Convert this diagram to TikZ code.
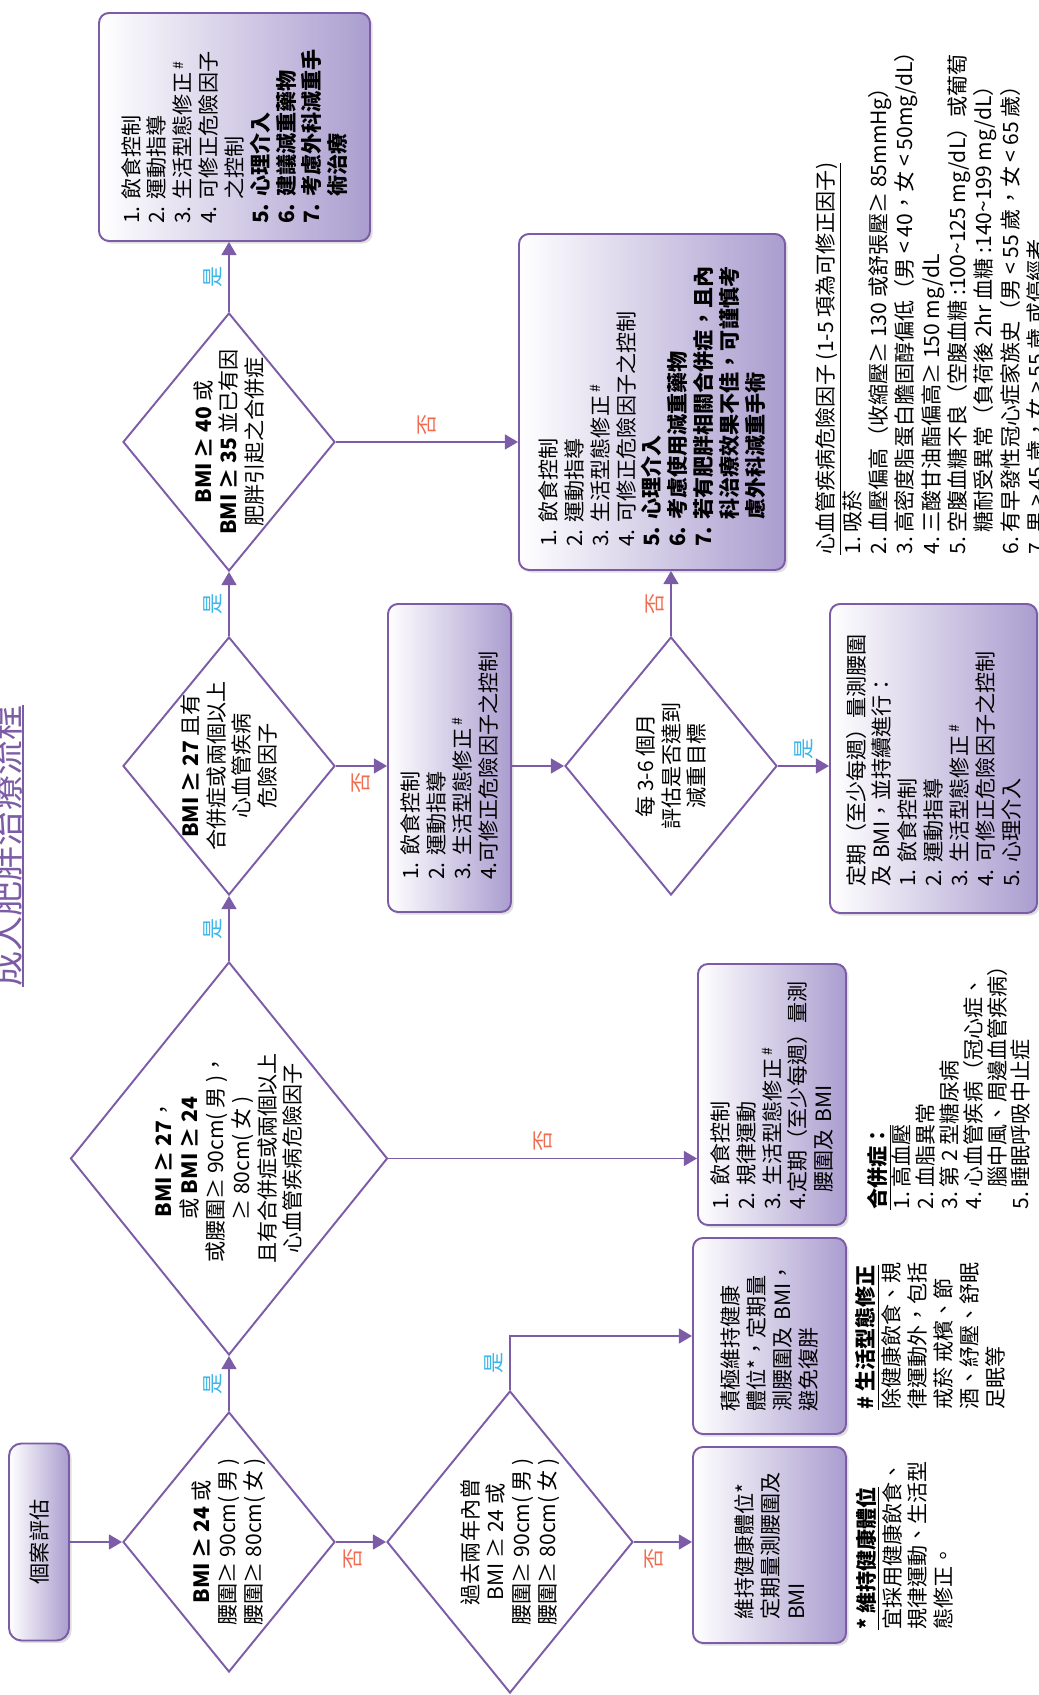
\documentclass[tikz,border=0pt]{standalone}
\usepackage{fontspec}
\setmainfont{Noto Sans CJK TC}
\usetikzlibrary{shapes.geometric,arrows.meta,shadows}
\definecolor{flowline}{RGB}{124,92,166}
\definecolor{boxdark}{RGB}{170,157,207}
\definecolor{yescol}{RGB}{60,182,232}
\definecolor{nocol}{RGB}{240,108,80}
\begin{document}
\begin{tikzpicture}[rotate=90,transform shape,font=\fontsize{12}{14.7}\selectfont,
  link/.style={draw=flowline,line width=1.1pt,-{Triangle[length=7.5pt,width=8.5pt]}},
  decision/.style={diamond,draw=flowline,line width=1.1pt,inner sep=-10pt,align=center},
  stepbox/.style={rectangle,rounded corners=0.2cm,draw=flowline,line width=1.1pt,
    top color=white,bottom color=boxdark,shading angle=90,align=left,
    drop shadow={shadow xshift=1.5pt,shadow yshift=-1.5pt,opacity=0.25}},
  yeslabel/.style={text=yescol},
  nolabel/.style={text=nocol}]
  \useasboundingbox (0,0) rectangle (33.9,20.76);

  \node[anchor=south west,inner sep=0pt,text=flowline,font=\fontsize{20}{24}\selectfont]
    (title) at (14.16,20.3) {成人肥胖治療流程};
  \draw[flowline,line width=1.4pt] (title.south west) -- (title.south east);

  \node[stepbox,align=center,rounded corners=0.25cm,minimum width=3.94cm,minimum height=1.2cm]
    (start) at (3.06,19.98) {個案評估};
  \node[decision,minimum width=5.2cm,minimum height=4.24cm] (d24) at (3.06,16.18)
    {\textbf{BMI ≥ 24} 或\\腰圍≥ 90cm( 男 )\\腰圍≥ 80cm( 女 )};
  \node[decision,minimum width=6.04cm,minimum height=4.92cm] (dpast) at (3.06,10.56)
    {過去兩年內曾\\BMI ≥ 24 或\\腰圍≥ 90cm( 男 )\\腰圍≥ 80cm( 女 )};
  \node[decision,minimum width=7.86cm,minimum height=6.34cm] (big) at (10.73,16.18)
    {\textbf{BMI ≥ 27}，\\或 \textbf{BMI ≥ 24}\\或腰圍≥ 90cm( 男 )，\\≥ 80cm( 女 )\\且有合併症或兩個以上\\心血管疾病危險因子};
  \node[decision,minimum width=5.16cm,minimum height=4.24cm] (d27) at (18.58,16.18)
    {\textbf{BMI ≥ 27} 且有\\合併症或兩個以上\\心血管疾病\\危險因子};
  \node[decision,minimum width=5.16cm,minimum height=4.24cm] (d36) at (18.58,7.34)
    {每 3-6 個月\\評估是否達到\\減重目標};
  \node[decision,minimum width=5.16cm,minimum height=4.24cm] (d40) at (25.06,16.18)
    {\textbf{BMI ≥ 40} 或\\\textbf{BMI ≥ 35} 並已有因\\肥胖引起之合併症};

  \node[stepbox,minimum width=3.92cm,minimum height=3.06cm,text width=3.0cm,inner xsep=0.46cm]
    (maintain) at (3.0,5.37) {維持健康體位*\\定期量測腰圍及\\BMI};
  \node[stepbox,minimum width=3.92cm,minimum height=3.06cm,text width=3.04cm,inner xsep=0.44cm]
    (active) at (7.18,5.37) {積極維持健康\\體位*，定期量\\測腰圍及~BMI，\\避免復胖};
  \node[stepbox,minimum width=5.22cm,minimum height=2.96cm,text width=4.62cm,inner xsep=0.3cm]
    (box24) at (12.01,5.32)
    {1.~飲食控制\\2.~規律運動\\3.~生活型態修正\,\textsuperscript{\#}\\4.定期（至少每週）量測\\\phantom{4.}腰圍及~BMI};
  \node[stepbox,minimum width=6.16cm,minimum height=2.46cm,text width=4.88cm,inner xsep=0.64cm]
    (box27) at (18.74,11.77)
    {1.~飲食控制\\2.~運動指導\\3.~生活型態修正\,\textsuperscript{\#}\\4.可修正危險因子之控制};
  \node[stepbox,minimum width=6.18cm,minimum height=4.14cm,text width=5.14cm,inner xsep=0.52cm]
    (boxreg) at (18.73,2.09)
    {定期（至少每週）量測腰圍\\及~BMI，並持續進行：\\1.~飲食控制\\2.~運動指導\\3.~生活型態修正\,\textsuperscript{\#}\\4.~可修正危險因子之控制\\5.~心理介入};
  \node[stepbox,minimum width=6.72cm,minimum height=5.32cm,text width=5.8cm,inner xsep=0.46cm]
    (boxC) at (25.86,7.72)
    {1.~飲食控制\\2.~運動指導\\3.~生活型態修正\,\textsuperscript{\#}\\4.~可修正危險因子之控制\\
     \textbf{5.~心理介入}\\\textbf{6.~考慮使用減重藥物}\\\textbf{7.~若有肥胖相關合併症，且內}\\
     \phantom{\textbf{7.~}}\textbf{科治療效果不佳，可謹慎考}\\\phantom{\textbf{7.~}}\textbf{慮外科減重手術}};
  \node[stepbox,minimum width=4.56cm,minimum height=5.42cm,text width=3.88cm,inner xsep=0.34cm]
    (boxA) at (31.36,16.07)
    {1.~飲食控制\\2.~運動指導\\3.~生活型態修正\,\textsuperscript{\#}\\4.~可修正危險因子\\\phantom{4.~}之控制\\
     \textbf{5.~心理介入}\\\textbf{6.~建議減重藥物}\\\textbf{7.~考慮外科減重手}\\\phantom{\textbf{7.~}}\textbf{術治療}};

  \draw[link] (start.south) -- (d24.north);
  \draw[link] (d24.south) -- (dpast.north) node[pos=0.35,left,nolabel] {否};
  \draw[link] (d24.east) -- (big.west) node[midway,above,yeslabel] {是};
  \draw[link] (dpast.south) -- (dpast.south |- maintain.north) node[pos=0.35,left,nolabel] {否};
  \draw[link] (dpast.east) -| (active.north) node[pos=0.25,above,yeslabel] {是};
  \draw[link] (big.south) -- (big.south |- box24.north) node[midway,right,nolabel] {否};
  \draw[link] (big.east) -- (d27.west) node[midway,above,yeslabel] {是};
  \draw[link] (d27.south) -- (d27.south |- box27.north) node[midway,left,nolabel] {否};
  \draw[link] (box27.south -| d36.north) -- (d36.north);
  \draw[link] (d36.south) -- (d36.south |- boxreg.north) node[midway,right,yeslabel] {是};
  \draw[link] (d36.east) -- (d36.east -| boxC.west) node[midway,above,nolabel] {否};
  \draw[link] (d27.east) -- (d40.west) node[midway,above,yeslabel] {是};
  \draw[link] (d40.south) -- (d40.south |- boxC.north) node[midway,right,nolabel] {否};
  \draw[link] (d40.east) -- (d40.east -| boxA.west) node[midway,above,yeslabel] {是};

  \node[anchor=north west,align=left,inner sep=0pt] (notekeep) at (1.3,3.65)
    {\underline{\textbf{* 維持健康體位}}\\宜採用健康飲食、\\規律運動、生活型\\態修正。};
  \node[anchor=north west,align=left,inner sep=0pt] (notelife) at (5.7,3.65)
    {\underline{\textbf{\# 生活型態修正}}\\除健康飲食、規\\律運動外，包括\\戒菸 戒檳、節\\酒、紓壓、舒眠\\足眠等};
  \node[anchor=north west,align=left,inner sep=0pt,font=\fontsize{12}{13.6}\selectfont]
    (comorb) at (9.7,3.42)
    {\underline{\textbf{合併症：}}\\1.~高血壓\\2.~血脂異常\\3.~第 2 型糖尿病\\4.~心血管疾病（冠心症、\\
     \phantom{4.~}腦中風、周邊血管疾病）\\5.~睡眠呼吸中止症};
  \node[anchor=north west,align=left,inner sep=0pt,font=\fontsize{12}{15}\selectfont]
    (risk) at (22.8,4.45)
    {\underline{心血管疾病危險因子 (1-5 項為可修正因子)}\\1.~吸菸\\
     2.~血壓偏高（收縮壓≥ 130 或舒張壓≥ 85mmHg）\\
     3.~高密度脂蛋白膽固醇偏低（男 < 40，女 < 50mg/dL）\\
     4.~三酸甘油酯偏高≥ 150 mg/dL\\
     5.~空腹血糖不良（空腹血糖 :100\textasciitilde125 mg/dL）或葡萄\\
     \phantom{5.~}糖耐受異常（負荷後 2hr 血糖 :140\textasciitilde199 mg/dL）\\
     6.~有早發性冠心症家族史（男 < 55 歲，女 < 65 歲）\\
     7.~男 > 45 歲，女 > 55 歲 或停經者};
\end{tikzpicture}
\end{document}
